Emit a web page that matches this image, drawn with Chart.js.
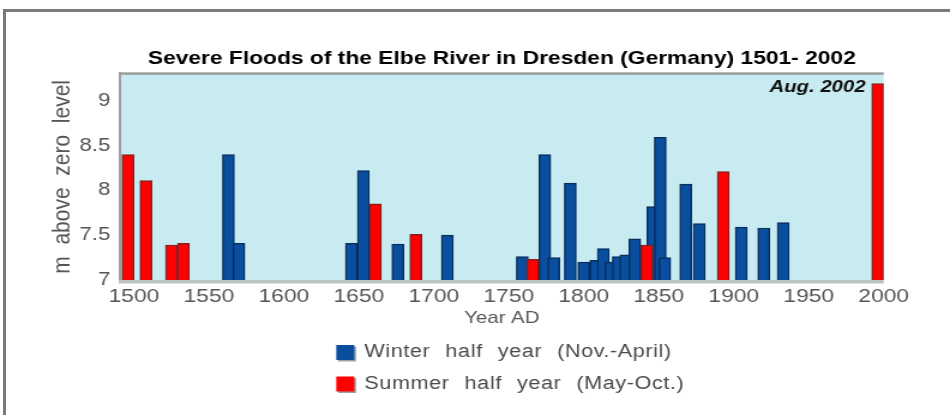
<!DOCTYPE html>
<html>
<head>
<meta charset="utf-8">
<title>Severe Floods of the Elbe River in Dresden</title>
<script src="https://cdn.jsdelivr.net/npm/chart.js@4.4.0/dist/chart.umd.min.js"></script>
<style>
  html, body { margin: 0; padding: 0; background: #fff; overflow: hidden; }
  #marco { position: absolute; left: 3px; top: 9px; width: 960px; height: 420px; border-top: 3px solid #7a7a7a; border-left: 3px solid #7a7a7a; }
  /* the original picture is stretched sideways, so the canvas is too */
  #envoltura { position: absolute; left: 0; top: 0; width: 792px; height: 415px; transform: scaleX(1.1995); transform-origin: 0 0; }
</style>
</head>
<body>
<div id="marco"></div>
<div id="envoltura"><canvas id="graficaCrecidas" width="792" height="415"></canvas></div>
<script>
// years as placed on the picture's axis, level in m above zero
const aniosInvierno = [1563, 1570, 1645, 1653, 1676, 1709, 1759, 1774, 1780, 1791, 1800, 1808, 1813, 1818, 1823, 1828, 1834, 1846, 1851, 1854, 1868, 1877, 1905, 1920, 1933];
const nivelesInvierno = [8.40, 7.41, 7.41, 8.22, 7.40, 7.50, 7.26, 8.40, 7.25, 8.08, 7.20, 7.22, 7.35, 7.20, 7.26, 7.28, 7.46, 7.82, 8.59, 7.25, 8.07, 7.63, 7.59, 7.58, 7.64];
const aniosVerano = [1496, 1508, 1525, 1533, 1661, 1688, 1766, 1842, 1893, 1996];
const nivelesVerano = [8.40, 8.11, 7.39, 7.41, 7.85, 7.51, 7.23, 7.39, 8.21, 9.19];
const ticksAnios = [1500, 1550, 1600, 1650, 1700, 1750, 1800, 1850, 1900, 1950, 2000];
const ticksNivel = [7, 7.5, 8, 8.5, 9];

const fuente = '"Liberation Sans", Arial, sans-serif';

const puntos = (anios, niveles) => anios.map((a, i) => ({ x: a, y: niveles[i] }));

// light blue plot background and frame
const fondoArea = {
    id: 'fondoArea',
    beforeDatasetsDraw(chart) {
        const { ctx, chartArea: a } = chart;
        ctx.save();
        ctx.fillStyle = '#c8ebf2';
        ctx.fillRect(a.left, a.top, a.right - a.left, a.bottom - a.top);
        ctx.restore();
    },
    afterDatasetsDraw(chart) {
        const { ctx, chartArea: a } = chart;
        ctx.save();
        ctx.fillStyle = '#9c9c9c';
        ctx.fillRect(a.left - 1, a.top - 1.5, a.right - a.left + 1, 2.5);
        ctx.fillRect(a.left - 1, a.top - 1.5, 2, a.bottom - a.top + 1.5);
        ctx.fillStyle = '#bcc2c3';
        ctx.fillRect(a.left - 1, a.bottom, a.right - a.left + 1, 3.5);
        ctx.restore();
    }
};

// "Aug. 2002" next to the last summer bar
const notaAgosto = {
    id: 'notaAgosto',
    afterDatasetsDraw(chart) {
        const { ctx } = chart;
        const meta = chart.getDatasetMeta(1);
        const barra = meta.data[meta.data.length - 1];
        ctx.save();
        ctx.font = 'italic bold 17px ' + fuente;
        ctx.textAlign = 'right';
        ctx.textBaseline = 'middle';
        ctx.fillStyle = '#111';
        ctx.fillText('Aug. 2002', barra.x - 10, barra.y + 4);
        ctx.restore();
    }
};

// legend stacked in two rows under the axis title
const leyendaFilas = {
    id: 'leyendaFilas',
    afterDraw(chart) {
        const { ctx, chartArea: a } = chart;
        const izq = (a.left + a.right) / 2 - 138;
        ctx.save();
        ctx.font = '18px ' + fuente;
        ctx.textBaseline = 'middle';
        ctx.textAlign = 'left';
        if ('letterSpacing' in ctx) ctx.letterSpacing = '0.5px';
        if ('wordSpacing' in ctx) ctx.wordSpacing = '7px';
        chart.data.datasets.forEach((ds, i) => {
            const y = a.bottom + 72.5 + i * 31.5;
            ctx.fillStyle = '#9aa4a6';
            ctx.fillRect(izq + 1.5, y - 6, 15, 15);
            ctx.fillStyle = ds.backgroundColor;
            ctx.fillRect(izq, y - 7.5, 15, 15);
            ctx.fillStyle = '#4a4a4a';
            ctx.fillText(ds.label, izq + 23.5, y);
        });
        ctx.restore();
    }
};

document.addEventListener("DOMContentLoaded", function () {
    const ctx = document.getElementById('graficaCrecidas').getContext('2d');

    new Chart(ctx, {
        type: 'bar',
        data: {
            datasets: [{
                label: 'Winter half year (Nov.-April)',
                data: puntos(aniosInvierno, nivelesInvierno),
                backgroundColor: '#0a4f9f',
                borderColor: '#062f5e',
                borderWidth: 1.5,
                barThickness: 10,
                grouped: false,
                order: 1
            }, {
                label: 'Summer half year (May-Oct.)',
                data: puntos(aniosVerano, nivelesVerano),
                backgroundColor: '#ff0000',
                borderColor: '#8c1d1d',
                borderWidth: 1.5,
                barThickness: 10,
                grouped: false,
                order: 0
            }]
        },
        options: {
            responsive: false,
            animation: false,
            layout: { padding: { right: 55.3 } },
            plugins: {
                legend: { display: false },
                tooltip: { enabled: false },
                title: {
                    display: true,
                    text: 'Severe Floods of the Elbe River in Dresden (Germany) 1501- 2002',
                    fullSize: false,
                    color: '#000',
                    font: { family: fuente, size: 19, weight: 'bold' },
                    padding: { top: 47, bottom: 4 }
                }
            },
            scales: {
                x: {
                    type: 'linear',
                    min: 1490.67,
                    max: 2000,
                    offset: false,
                    afterBuildTicks: s => { s.ticks = ticksAnios.map(v => ({ value: v })); },
                    afterFit: s => { s.height = 135; },
                    grid: { display: false, drawTicks: false },
                    border: { display: false },
                    ticks: {
                        autoSkip: false,
                        maxRotation: 0,
                        padding: 5,
                        color: '#555',
                        font: { family: fuente, size: 19 },
                        callback: v => String(v)
                    },
                    title: {
                        display: true,
                        text: 'Year AD',
                        color: '#555',
                        font: { family: fuente, size: 17 },
                        padding: { top: 0, bottom: 86 }
                    }
                },
                y: {
                    min: 7,
                    max: 9.3,
                    beginAtZero: false,
                    afterBuildTicks: s => { s.ticks = ticksNivel.map(v => ({ value: v })); },
                    afterFit: s => { s.width = 100; },
                    grid: { display: false, drawTicks: false },
                    border: { display: false },
                    ticks: {
                        padding: 8,
                        color: '#555',
                        font: { family: fuente, size: 18.5 },
                        callback: v => String(v)
                    },
                    title: {
                        display: true,
                        text: 'm  above  zero  level',
                        color: '#555',
                        font: { family: fuente, size: 21 },
                        padding: { top: 40, bottom: 0 }
                    }
                }
            }
        },
        plugins: [fondoArea, notaAgosto, leyendaFilas]
    });
});
</script>
</body>
</html>
